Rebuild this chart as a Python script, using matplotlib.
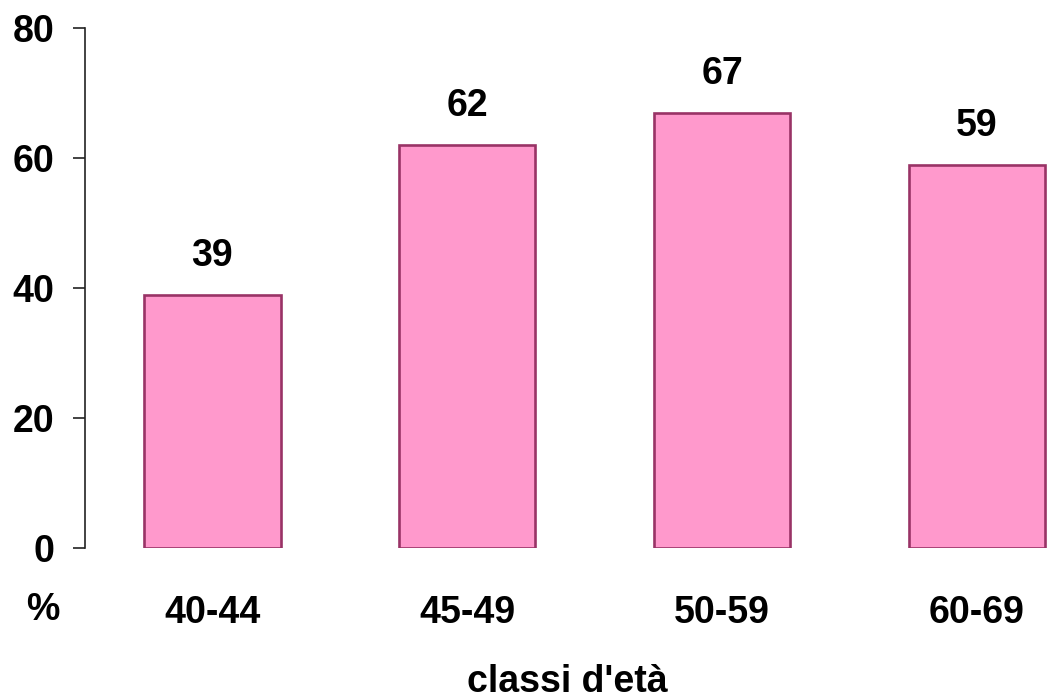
import numpy as np
import matplotlib
matplotlib.use("Agg")
import matplotlib.pyplot as plt

plt.rcParams['font.family'] = ['Liberation Sans', 'DejaVu Sans']
plt.rcParams['font.weight'] = 'bold'

classi = ["40-44", "45-49", "50-59", "60-69"]
valori = [39, 62, 67, 59]

W, H = 1048, 699
fig = plt.figure(figsize=(W / 100, H / 100), dpi=100)
ax = fig.add_axes([85 / W, (H - 548) / H, (W - 85) / W, 520 / H])

x = np.arange(len(classi))
ax.bar(x, valori, width=0.535, color="#FF99CC", edgecolor="#993366", linewidth=1.9)

# etichette con il valore sopra ogni barra
for xi, v in zip(x, valori):
    ax.annotate(str(v), (xi, v), xytext=(0, 15), textcoords="offset points",
                ha="center", va="bottom", fontsize=27, fontweight="bold")

ax.set_xlim(-0.5, 3 + (W - 977) / 255)
ax.set_ylim(0, 80)
ax.set_yticks([0, 20, 40, 60, 80])
ax.set_xticks(x)
ax.set_xticklabels(classi)

for s in ["top", "right", "bottom"]:
    ax.spines[s].set_visible(False)
ax.spines["left"].set_linewidth(1.2)
ax.spines["left"].set_color("#222222")

ax.tick_params(axis="y", length=9, width=1.2, pad=13, labelsize=27, colors="#222222",
               labelcolor="black")
ax.tick_params(axis="x", length=0, pad=34, labelsize=27)
for lab in ax.get_xticklabels() + ax.get_yticklabels():
    lab.set_fontweight("bold")

fig.text(43 / W, 1 - 610 / H, "%", ha="center", va="center", fontsize=27, fontweight="bold")
fig.text(567 / W, 1 - 692 / H, "classi d'età", ha="center", va="baseline",
         fontsize=27, fontweight="bold")

fig.savefig("out.png", dpi=100)
